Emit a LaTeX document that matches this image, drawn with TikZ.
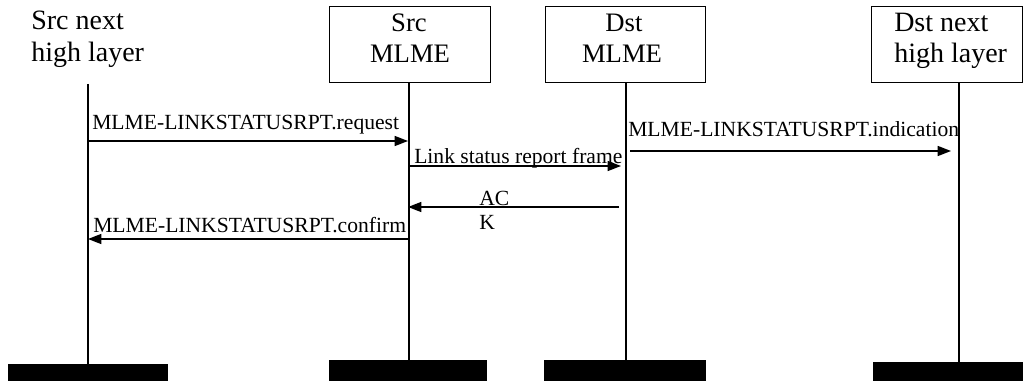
\documentclass[tikz,border=0pt]{standalone}
\usepackage{fontspec}
\setmainfont{Liberation Serif}
\usetikzlibrary{arrows.meta}
\begin{document}
\begin{tikzpicture}[x=0.75pt,y=-0.75pt,
  head/.style={font=\fontsize{21}{24}\selectfont, inner sep=0pt, anchor=base west},
  mid/.style={font=\fontsize{20}{24}\selectfont, inner sep=0pt, anchor=base},
  hbox/.style={draw, line width=0.75pt, inner sep=0pt, minimum height=57pt},
  msg/.style={font=\fontsize{16.2}{18}\selectfont, inner sep=0pt, anchor=base west},
  life/.style={line width=1.1pt},
  call/.style={line width=1.1pt, -{Triangle[length=10pt,width=7.5pt]}},
  bar/.style={fill=black, inner sep=0pt}]
\useasboundingbox (0,0) rectangle (1023,381);

% entity boxes
\node[hbox, minimum width=120.75pt] (srcm) at (409.5,45) {};
\node[hbox, minimum width=120pt] (dstm) at (625,45) {};
\node[hbox, minimum width=113.25pt] (dstn) at (946.5,45) {};

% entity names
\node[head] (srcn1) at (31,30) {Src next};
\node[head] (srcn2) at (31,62) {high layer};
\node[mid] (srcm1) at (409,32) {Src};
\node[mid] (srcm2) at (410,63) {MLME};
\node[mid] (dstm1) at (624,32) {Dst};
\node[mid] (dstm2) at (622,63) {MLME};
\node[head] (dstn1) at (894,32) {Dst next};
\node[head] (dstn2) at (894,63) {high layer};

% end-of-life bars
\node[bar, minimum width=120pt, minimum height=12.75pt] (srcnbar) at (88,372.5) {};
\node[bar, minimum width=118.5pt, minimum height=15.75pt] (srcmbar) at (408,370.5) {};
\node[bar, minimum width=121.5pt, minimum height=15.75pt] (dstmbar) at (625,370.5) {};
\node[bar, minimum width=112.5pt, minimum height=14.25pt] (dstnbar) at (948,371.5) {};

% lifelines
\coordinate (l1t) at (88,84);   \coordinate (l1b) at (88,364);
\coordinate (l2t) at (409,83);  \coordinate (l2b) at (409,360);
\coordinate (l3t) at (626,83);  \coordinate (l3b) at (626,360);
\coordinate (l4t) at (959,83);  \coordinate (l4b) at (959,362);
\draw[life] (l1t) -- (l1b);
\draw[life] (l2t) -- (l2b);
\draw[life] (l3t) -- (l3b);
\draw[life] (l4t) -- (l4b);

% message end points
\coordinate (reqA) at (88,141);   \coordinate (reqB) at (408,141);
\coordinate (lsrA) at (409,166);  \coordinate (lsrB) at (621,166);
\coordinate (indA) at (630,151);  \coordinate (indB) at (951,151);
\coordinate (ackA) at (619,207);  \coordinate (ackB) at (408,207);
\coordinate (cnfA) at (409,239);  \coordinate (cnfB) at (88,239);

% messages
\draw[call] (reqA) -- (reqB);
\node[msg] (reqL) at (92,130) {MLME-LINKSTATUSRPT.request};
\draw[call] (lsrA) -- (lsrB);
\node[msg] (lsrL) at (414,163) {Link status report frame};
\draw[call] (indA) -- (indB);
\node[msg] (indL) at (628,137) {MLME-LINKSTATUSRPT.indication};
\draw[call] (ackA) -- (ackB);
\node[msg] (ackL1) at (479,205) {AC};
\node[msg] (ackL2) at (479,229) {K};
\draw[call] (cnfA) -- (cnfB);
\node[msg] (cnfL) at (93,232) {MLME-LINKSTATUSRPT.confirm};
\end{tikzpicture}
\end{document}
